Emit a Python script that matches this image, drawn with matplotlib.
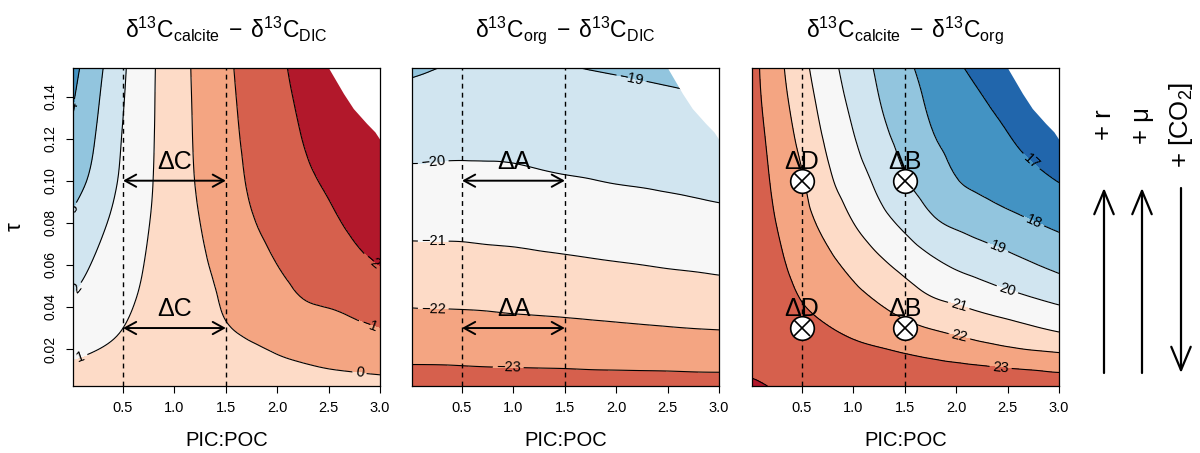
import numpy as np
import matplotlib
matplotlib.use('Agg')
import matplotlib.pyplot as plt
import matplotlib.tri as mtri
from matplotlib.patches import FancyArrowPatch

plt.rcParams['font.family'] = ['Liberation Sans', 'DejaVu Sans']
plt.rcParams['mathtext.fontset'] = 'custom'
plt.rcParams['mathtext.rm'] = 'Liberation Sans'
plt.rcParams['mathtext.it'] = 'Liberation Sans:italic'
plt.rcParams['mathtext.bf'] = 'Liberation Sans:bold'
plt.rcParams['mathtext.sf'] = 'Liberation Sans'
plt.rcParams['mathtext.default'] = 'regular'

# ---------------- data ----------------
pic_poc = [0.01, 0.125, 0.25, 0.5, 0.75, 1.0, 1.25, 1.5, 1.75, 2.0, 2.25, 2.5, 2.75, 3.0]
tau = [0.0025, 0.01, 0.02, 0.03, 0.045, 0.06, 0.08, 0.10, 0.125, 0.155]

# d13C_calcite - d13C_DIC  (rows = tau, columns = PIC:POC)
calcite_dic = [
    [0.65, 0.63, 0.61, 0.58, 0.54, 0.50, 0.46, 0.42, 0.385, 0.35, 0.31, 0.27, 0.235, 0.20],
    [0.85, 0.81, 0.77, 0.69, 0.60, 0.52, 0.43, 0.35, 0.27, 0.18, 0.10, 0.02, -0.035, -0.09],
    [1.16, 1.09, 1.01, 0.86, 0.70, 0.54, 0.39, 0.23, 0.075, -0.06, -0.20, -0.31, -0.43, -0.55],
    [1.48, 1.37, 1.25, 1.00, 0.76, 0.52, 0.29, 0.05, -0.14, -0.31, -0.53, -0.66, -0.84, -1.01],
    [1.96, 1.79, 1.59, 1.20, 0.84, 0.53, 0.22, -0.11, -0.42, -0.70, -1.03, -1.18, -1.34, -1.53],
    [2.33, 2.11, 1.87, 1.38, 0.92, 0.53, 0.13, -0.26, -0.65, -1.00, -1.30, -1.54, -1.78, -2.03],
    [2.82, 2.54, 2.23, 1.62, 1.02, 0.51, 0.00, -0.45, -0.93, -1.27, -1.57, -1.86, -2.13, -2.38],
    [3.35, 3.06, 2.66, 1.83, 1.11, 0.48, -0.12, -0.61, -1.12, -1.47, -1.81, -2.12, -2.40, -2.65],
    [3.85, 3.43, 2.96, 1.97, 1.16, 0.46, -0.19, -0.74, -1.24, -1.66, -2.06, -2.45, -2.72, -2.95],
    [4.31, 3.82, 3.27, 2.14, 1.21, 0.44, -0.24, -0.84, -1.35, -1.83, -2.27, -2.66, -3.00, -3.25],
]

# d13C_org - d13C_DIC
org_dic = [
    [-23.38, -23.38, -23.38, -23.37, -23.35, -23.35, -23.34, -23.33, -23.33, -23.33, -23.33, -23.33, -23.32, -23.32],
    [-23.10, -23.10, -23.10, -23.08, -23.06, -23.05, -23.04, -23.03, -23.01, -23.00, -22.99, -22.98, -22.96, -22.95],
    [-22.72, -22.72, -22.71, -22.70, -22.67, -22.65, -22.63, -22.61, -22.58, -22.55, -22.52, -22.50, -22.47, -22.45],
    [-22.35, -22.34, -22.33, -22.32, -22.29, -22.25, -22.22, -22.19, -22.15, -22.11, -22.07, -22.03, -21.99, -21.96],
    [-21.81, -21.80, -21.80, -21.79, -21.76, -21.72, -21.69, -21.65, -21.61, -21.57, -21.52, -21.47, -21.42, -21.37],
    [-21.34, -21.33, -21.33, -21.32, -21.28, -21.25, -21.20, -21.15, -21.10, -21.05, -21.00, -20.94, -20.89, -20.83],
    [-20.75, -20.75, -20.75, -20.75, -20.72, -20.69, -20.64, -20.60, -20.55, -20.49, -20.43, -20.37, -20.30, -20.24],
    [-20.21, -20.21, -20.22, -20.23, -20.22, -20.19, -20.13, -20.07, -20.02, -19.96, -19.92, -19.87, -19.82, -19.76],
    [-19.58, -19.60, -19.63, -19.66, -19.66, -19.66, -19.60, -19.55, -19.52, -19.48, -19.43, -19.38, -19.33, -19.27],
    [-18.85, -18.90, -18.96, -19.02, -19.05, -19.08, -19.02, -19.00, -18.95, -18.90, -18.85, -18.80, -18.75, -18.70],
]

# d13C_calcite - d13C_org
calcite_org = [
    [24.10, 24.02, 23.96, 23.90, 23.84, 23.78, 23.72, 23.66, 23.62, 23.58, 23.54, 23.50, 23.45, 23.40],
    [23.92, 23.88, 23.84, 23.76, 23.67, 23.59, 23.50, 23.42, 23.33, 23.25, 23.17, 23.08, 23.00, 22.91],
    [23.80, 23.73, 23.66, 23.50, 23.35, 23.20, 23.05, 22.87, 22.68, 22.49, 22.30, 22.11, 21.94, 21.80],
    [23.70, 23.60, 23.49, 23.27, 23.04, 22.78, 22.51, 22.24, 21.97, 21.75, 21.52, 21.30, 21.07, 20.85],
    [23.64, 23.48, 23.31, 22.95, 22.59, 22.23, 21.86, 21.43, 21.01, 20.75, 20.48, 20.22, 19.96, 19.70],
    [23.62, 23.42, 23.18, 22.71, 22.23, 21.74, 21.21, 20.72, 20.25, 19.87, 19.60, 19.33, 19.05, 18.78],
    [23.59, 23.31, 22.99, 22.35, 21.68, 21.00, 20.36, 19.78, 19.20, 18.83, 18.57, 18.31, 18.04, 17.78],
    [23.50, 23.18, 22.81, 22.08, 21.18, 20.47, 19.77, 19.08, 18.52, 18.04, 17.76, 17.49, 17.23, 16.97],
    [23.40, 23.02, 22.58, 21.67, 20.75, 19.97, 19.21, 18.61, 18.02, 17.66, 17.31, 16.96, 16.60, 16.25],
    [23.31, 22.84, 22.32, 21.26, 20.34, 19.54, 18.81, 18.17, 17.62, 17.10, 16.64, 16.18, 15.70, 15.30],
]

# upper-right corner without model values
nodata_pic = [2.50, 2.645, 2.74, 2.87, 2.95, 3.0]
nodata_tau = [0.1535, 0.1414, 0.1343, 0.1272, 0.1232, 0.1195]

# compared PIC:POC values and tau values
ref_pic = [0.5, 1.5]
ref_tau = [0.10, 0.03]

lines1 = [-2, -1, 0, 1, 2, 3, 4]
lines2 = [-23, -22, -21, -20, -19]
lines3 = [17, 18, 19, 20, 21, 22, 23, 24]

cols1 = ['#B2182B', '#D6604D', '#F4A582', '#FDDBC7', '#F7F7F7', '#D1E5F0', '#92C5DE', '#4393C3']
cols2 = ['#D6604D', '#F4A582', '#FDDBC7', '#F7F7F7', '#D1E5F0', '#92C5DE']
cols3 = ['#2166AC', '#4393C3', '#92C5DE', '#D1E5F0', '#F7F7F7', '#FDDBC7', '#F4A582', '#D6604D', '#B2182B']

titles = [r'$δ^{13}C_{calcite}\;-\;δ^{13}C_{DIC}$',
          r'$δ^{13}C_{org}\;-\;δ^{13}C_{DIC}$',
          r'$δ^{13}C_{calcite}\;-\;δ^{13}C_{org}$']

xticks = [0.5, 1.0, 1.5, 2.0, 2.5, 3.0]
yticks = [0.02, 0.04, 0.06, 0.08, 0.10, 0.12, 0.14]

# ---------------- figure ----------------
W, H = 1200, 453
fig = plt.figure(figsize=(W / 100, H / 100), dpi=100)
lefts = [72.7, 411.7, 751.7]
ax_w, ax_top, ax_bot = 307.3, 68.3, 385.7

xs = np.array(pic_poc)
ys = np.array(tau)
ny, nx = len(ys), len(xs)
X, Y = np.meshgrid(xs, ys)

# triangulated grid (tau scaled so that cells are roughly square on screen)
TSCALE = 0.051
idx = np.arange(ny * nx).reshape(ny, nx)
a = idx[:-1, :-1].ravel()
b = idx[:-1, 1:].ravel()
c = idx[1:, 1:].ravel()
d = idx[1:, :-1].ravel()
triangles = np.concatenate([np.stack([a, b, c], 1), np.stack([a, c, d], 1)])
tri = mtri.Triangulation(X.ravel(), Y.ravel() / TSCALE, triangles)
refiner = mtri.UniformTriRefiner(tri)

fields = [np.array(calcite_dic), np.array(org_dic), np.array(calcite_org)]
line_sets = [lines1, lines2, lines3]
col_sets = [cols1, cols2, cols3]


def fmt(v):
    return f'{v:.0f}'.replace('-', '\u2212')


label_pos = [
    [(0.06, 0.135), (0.05, 0.085), (0.1, 0.047), (0.09, 0.016),
     (2.8, 0.0085), (2.88, 0.029), (2.9, 0.06)],
    [(2.15, 0.149), (0.22, 0.1085), (0.22, 0.0705), (0.22, 0.039), (0.95, 0.012)],
    [(2.74, 0.1097), (2.76, 0.0812), (2.42, 0.0702), (2.5, 0.0488),
     (2.03, 0.0417), (2.03, 0.0258), (2.43, 0.0103)],
]
label_levels = [lines1, lines2, lines3[:-1]]

axes = []
for i in range(3):
    ax = fig.add_axes([lefts[i] / W, (H - ax_bot) / H, ax_w / W, (ax_bot - ax_top) / H])
    axes.append(ax)
    Z = fields[i]
    interp = mtri.CubicTriInterpolator(tri, Z.ravel(), kind='min_E')
    tri_r, z_r = refiner.refine_field(Z.ravel(), triinterpolator=interp, subdiv=3)
    tri_p = mtri.Triangulation(tri_r.x, tri_r.y * TSCALE, tri_r.triangles)
    bounds = [Z.min() - 10] + line_sets[i] + [Z.max() + 10]
    ax.tricontourf(tri_p, z_r, levels=bounds, colors=col_sets[i], zorder=1)
    cs = ax.tricontour(tri_p, z_r, levels=line_sets[i], colors='black', linewidths=0.8,
                       negative_linestyles='solid', zorder=2)
    ax.clabel(cs, levels=label_levels[i], manual=label_pos[i], inline=True,
              fontsize=10.5, fmt=fmt, inline_spacing=3)
    ax.fill_between(nodata_pic, nodata_tau, 0.2, color='white', zorder=3, lw=0)
    for xv in ref_pic:
        ax.axvline(xv, color='black', lw=1.0, ls=(0, (3.5, 3)), zorder=4)
    ax.set_xlim(0.01, 3.0)
    ax.set_ylim(0.0026, 0.1534)
    ax.set_xticks(xticks)
    ax.set_xticklabels([f'{v:.1f}' for v in xticks])
    ax.tick_params(axis='x', direction='out', length=5, width=0.8, labelsize=10.5, pad=6)
    if i == 0:
        ax.set_yticks(yticks)
        ax.set_yticklabels([f'{v:.2f}' for v in yticks], rotation=90, va='center')
        ax.tick_params(axis='y', direction='out', length=5, width=0.8, labelsize=10, pad=6)
        ax.text(-0.188, 0.5, 'τ', transform=ax.transAxes, rotation=90,
                ha='center', va='center', fontsize=16)
    else:
        ax.set_yticks([])
    for sp in ax.spines.values():
        sp.set_linewidth(0.9)
        sp.set_zorder(6)
    ax.text(0.5, (ax_bot - 440) / (ax_bot - ax_top), 'PIC:POC', transform=ax.transAxes,
            ha='center', va='center', fontsize=14.5)
    ax.text(0.5, (ax_bot - 37.5) / (ax_bot - ax_top), titles[i], transform=ax.transAxes,
            ha='center', va='baseline', fontsize=16.5)

# arrows with labels in panels 1 and 2
for ax, lab in [(axes[0], 'ΔC'), (axes[1], 'ΔA')]:
    for t in ref_tau:
        ax.annotate('', xy=(ref_pic[1], t), xytext=(ref_pic[0], t),
                    arrowprops=dict(arrowstyle='<->,head_length=0.4,head_width=0.22',
                                    lw=1.4, color='black', mutation_scale=20,
                                    shrinkA=0, shrinkB=0),
                    zorder=5)
        ax.text(np.mean(ref_pic), t + 0.0057, lab, ha='center', va='baseline',
                fontsize=18, zorder=5)

# markers in panel 3
ax = axes[2]
for t in ref_tau:
    for xv, lab in zip(ref_pic, ['ΔD', 'ΔB']):
        ax.plot([xv], [t], 'o', ms=17, mfc='white', mec='black', mew=1.2, zorder=5)
        ax.plot([xv], [t], 'x', ms=11.5, mec='black', mew=1.2, zorder=5)
        ax.text(xv, t + 0.0057, lab, ha='center', va='baseline', fontsize=18, zorder=6)

# right-hand side arrows and texts
side = [(1104, '+ r', 'up'), (1142, '+ μ', 'up'), (1181, r'$+\ [CO_2]$', 'down')]
for xp, txt, dirn in side:
    fig.text(xp / W, 1 - 125 / H, txt, rotation=90, ha='center', va='center', fontsize=18.5)
    y0, y1 = (373, 188) if dirn == 'up' else (188, 373)
    fig.add_artist(FancyArrowPatch(
        (xp / W, 1 - y0 / H), (xp / W, 1 - y1 / H), transform=fig.transFigure,
        arrowstyle='->,head_length=0.6,head_width=0.25', mutation_scale=28,
        lw=1.6, color='black', shrinkA=0, shrinkB=0))

fig.savefig('out.png', dpi=100)
